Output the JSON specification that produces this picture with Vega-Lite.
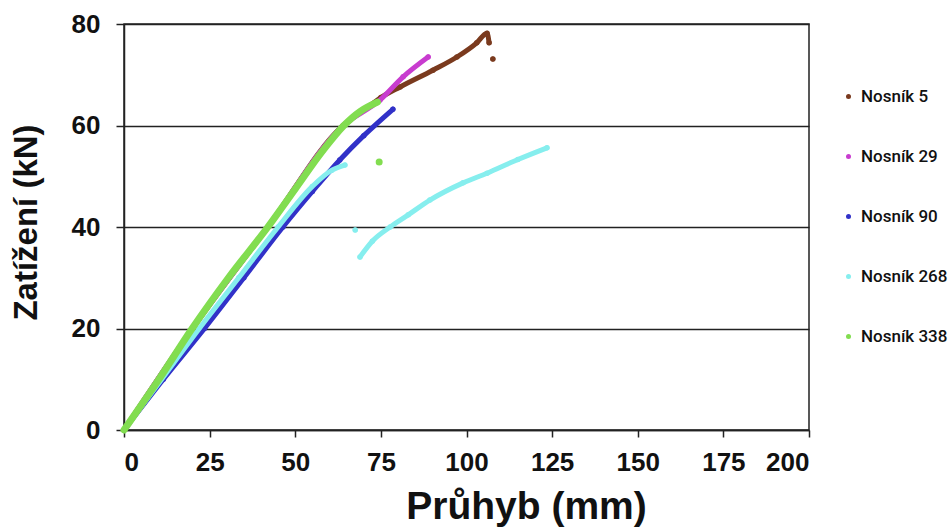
{
  "$schema": "https://vega.github.io/schema/vega-lite/v6.json",
  "width": 685,
  "height": 406,
  "autosize": {"type": "none"},
  "padding": {"left": 124, "top": 24, "right": 141, "bottom": 99},
  "background": "white",
  "config": {
    "font": "Liberation Sans",
    "view": {"stroke": "#222", "strokeWidth": 1.5},
    "axis": {
      "labelFont": "Liberation Sans",
      "labelFontWeight": "bold",
      "labelColor": "#111",
      "titleFont": "Liberation Sans",
      "titleFontWeight": "bold",
      "titleColor": "#111",
      "domainColor": "#222",
      "domainWidth": 1.5,
      "tickColor": "#222",
      "tickWidth": 1.5
    }
  },
  "data": {
    "values": [
      {"s": "Nosník 5", "seg": "5a", "d": 0, "f": 0},
      {"s": "Nosník 5", "seg": "5a", "d": 20, "f": 20},
      {"s": "Nosník 5", "seg": "5a", "d": 42, "f": 40},
      {"s": "Nosník 5", "seg": "5a", "d": 64, "f": 60},
      {"s": "Nosník 5", "seg": "5a", "d": 70, "f": 63},
      {"s": "Nosník 5", "seg": "5a", "d": 75, "f": 65.5},
      {"s": "Nosník 5", "seg": "5a", "d": 80.6, "f": 67.6},
      {"s": "Nosník 5", "seg": "5a", "d": 90.2, "f": 70.9},
      {"s": "Nosník 5", "seg": "5a", "d": 97.2, "f": 73.5},
      {"s": "Nosník 5", "seg": "5a", "d": 103, "f": 76.3},
      {"s": "Nosník 5", "seg": "5a", "d": 106, "f": 78.2},
      {"s": "Nosník 5", "seg": "5a", "d": 106.6, "f": 76.3},
      {"s": "Nosník 5", "seg": "5b", "d": 107.7, "f": 73.1},
      {"s": "Nosník 29", "seg": "29a", "d": 0, "f": 0},
      {"s": "Nosník 29", "seg": "29a", "d": 20, "f": 20},
      {"s": "Nosník 29", "seg": "29a", "d": 42, "f": 40},
      {"s": "Nosník 29", "seg": "29a", "d": 64, "f": 60},
      {"s": "Nosník 29", "seg": "29a", "d": 74.7, "f": 65},
      {"s": "Nosník 29", "seg": "29a", "d": 81.5, "f": 69.6},
      {"s": "Nosník 29", "seg": "29a", "d": 88.8, "f": 73.5},
      {"s": "Nosník 90", "seg": "90a", "d": 0, "f": 0},
      {"s": "Nosník 90", "seg": "90a", "d": 11.5, "f": 10},
      {"s": "Nosník 90", "seg": "90a", "d": 23.5, "f": 20},
      {"s": "Nosník 90", "seg": "90a", "d": 35, "f": 30},
      {"s": "Nosník 90", "seg": "90a", "d": 46.4, "f": 40},
      {"s": "Nosník 90", "seg": "90a", "d": 55, "f": 47},
      {"s": "Nosník 90", "seg": "90a", "d": 63, "f": 53.2},
      {"s": "Nosník 90", "seg": "90a", "d": 70, "f": 58},
      {"s": "Nosník 90", "seg": "90a", "d": 78.5, "f": 63.2},
      {"s": "Nosník 268", "seg": "26a", "d": 0, "f": 0},
      {"s": "Nosník 268", "seg": "26a", "d": 11, "f": 10},
      {"s": "Nosník 268", "seg": "26a", "d": 22, "f": 20},
      {"s": "Nosník 268", "seg": "26a", "d": 33.5, "f": 30},
      {"s": "Nosník 268", "seg": "26a", "d": 45, "f": 40},
      {"s": "Nosník 268", "seg": "26a", "d": 55, "f": 48},
      {"s": "Nosník 268", "seg": "26a", "d": 60.7, "f": 51.2},
      {"s": "Nosník 268", "seg": "26a", "d": 64.5, "f": 52.2},
      {"s": "Nosník 268", "seg": "26b", "d": 67.5, "f": 39.4},
      {"s": "Nosník 268", "seg": "26c", "d": 68.9, "f": 34.1},
      {"s": "Nosník 268", "seg": "26c", "d": 72.5, "f": 37.2},
      {"s": "Nosník 268", "seg": "26c", "d": 77.7, "f": 40},
      {"s": "Nosník 268", "seg": "26c", "d": 83, "f": 42.4},
      {"s": "Nosník 268", "seg": "26c", "d": 89.3, "f": 45.3},
      {"s": "Nosník 268", "seg": "26c", "d": 99, "f": 48.7},
      {"s": "Nosník 268", "seg": "26c", "d": 106, "f": 50.6},
      {"s": "Nosník 268", "seg": "26c", "d": 115, "f": 53.3},
      {"s": "Nosník 268", "seg": "26c", "d": 123.5, "f": 55.6},
      {"s": "Nosník 338", "seg": "33a", "d": 0, "f": 0},
      {"s": "Nosník 338", "seg": "33a", "d": 10, "f": 9.8},
      {"s": "Nosník 338", "seg": "33a", "d": 19.9, "f": 20},
      {"s": "Nosník 338", "seg": "33a", "d": 30.5, "f": 30},
      {"s": "Nosník 338", "seg": "33a", "d": 42, "f": 40},
      {"s": "Nosník 338", "seg": "33a", "d": 50, "f": 47.5},
      {"s": "Nosník 338", "seg": "33a", "d": 58, "f": 55},
      {"s": "Nosník 338", "seg": "33a", "d": 64.2, "f": 60},
      {"s": "Nosník 338", "seg": "33a", "d": 69, "f": 62.8},
      {"s": "Nosník 338", "seg": "33a", "d": 74, "f": 64.6},
      {"s": "Nosník 338", "seg": "33b", "d": 74.5, "f": 52.8}
    ]
  },
  "encoding": {
    "x": {
      "field": "d", "type": "quantitative",
      "scale": {"domain": [0, 200], "nice": false, "zero": true},
      "axis": {
        "values": [0, 25, 50, 75, 100, 125, 150, 175, 200],
        "grid": false,
        "tickSize": 7,
        "labelFontSize": 26,
        "labelPadding": 12,
        "title": "Průhyb (mm)",
        "titleFontSize": 39,
        "titleX": 402,
        "titleY": 76,
        "titleBaseline": "middle",
        "titleAnchor": "middle"
      }
    },
    "y": {
      "field": "f", "type": "quantitative",
      "scale": {"domain": [0, 80], "nice": false},
      "axis": {
        "values": [0, 20, 40, 60, 80],
        "grid": true,
        "gridColor": "#222",
        "gridWidth": 1.5,
        "gridOpacity": 1,
        "tickSize": 8,
        "labelFontSize": 26,
        "labelPadding": 16,
        "title": "Zatížení (kN)",
        "titleFontSize": 33,
        "titleX": -98,
        "titleY": 198,
        "titleBaseline": "middle",
        "titleAnchor": "middle"
      }
    },
    "color": {
      "field": "s", "type": "nominal",
      "scale": {
        "domain": ["Nosník 5", "Nosník 29", "Nosník 90", "Nosník 268", "Nosník 338"],
        "range": ["#7a3a1e", "#c83ccf", "#3131c8", "#86eeee", "#82dd50"]
      }
    }
  },
  "resolve": {"legend": {"color": "independent"}},
  "layer": [
    {
      "mark": {"type": "circle", "size": 30, "opacity": 1},
      "encoding": {
        "color": {
          "field": "s", "type": "nominal",
          "legend": {
            "title": null,
            "orient": "none",
            "legendX": 716,
            "legendY": 64,
            "symbolType": "circle",
            "symbolSize": 25,
            "symbolOpacity": 1,
            "rowPadding": 42,
            "labelFont": "Roboto",
            "labelFontSize": 17,
            "labelFontWeight": 500,
            "labelColor": "#111",
            "labelOffset": 4,
            "labelLimit": 400
          }
        }
      }
    },
    {
      "mark": {"type": "line", "strokeWidth": 5, "strokeCap": "round", "strokeJoin": "round", "interpolate": "monotone"},
      "encoding": {
        "detail": {"field": "seg", "type": "nominal"},
        "color": {"field": "s", "type": "nominal", "legend": null}
      }
    },
    {
      "transform": [{"filter": "datum.s === 'Nosník 338'"}],
      "mark": {"type": "line", "strokeWidth": 7, "strokeCap": "round", "strokeJoin": "round", "interpolate": "monotone"},
      "encoding": {
        "detail": {"field": "seg", "type": "nominal"},
        "color": {"field": "s", "type": "nominal", "legend": null}
      }
    }
  ]
}
